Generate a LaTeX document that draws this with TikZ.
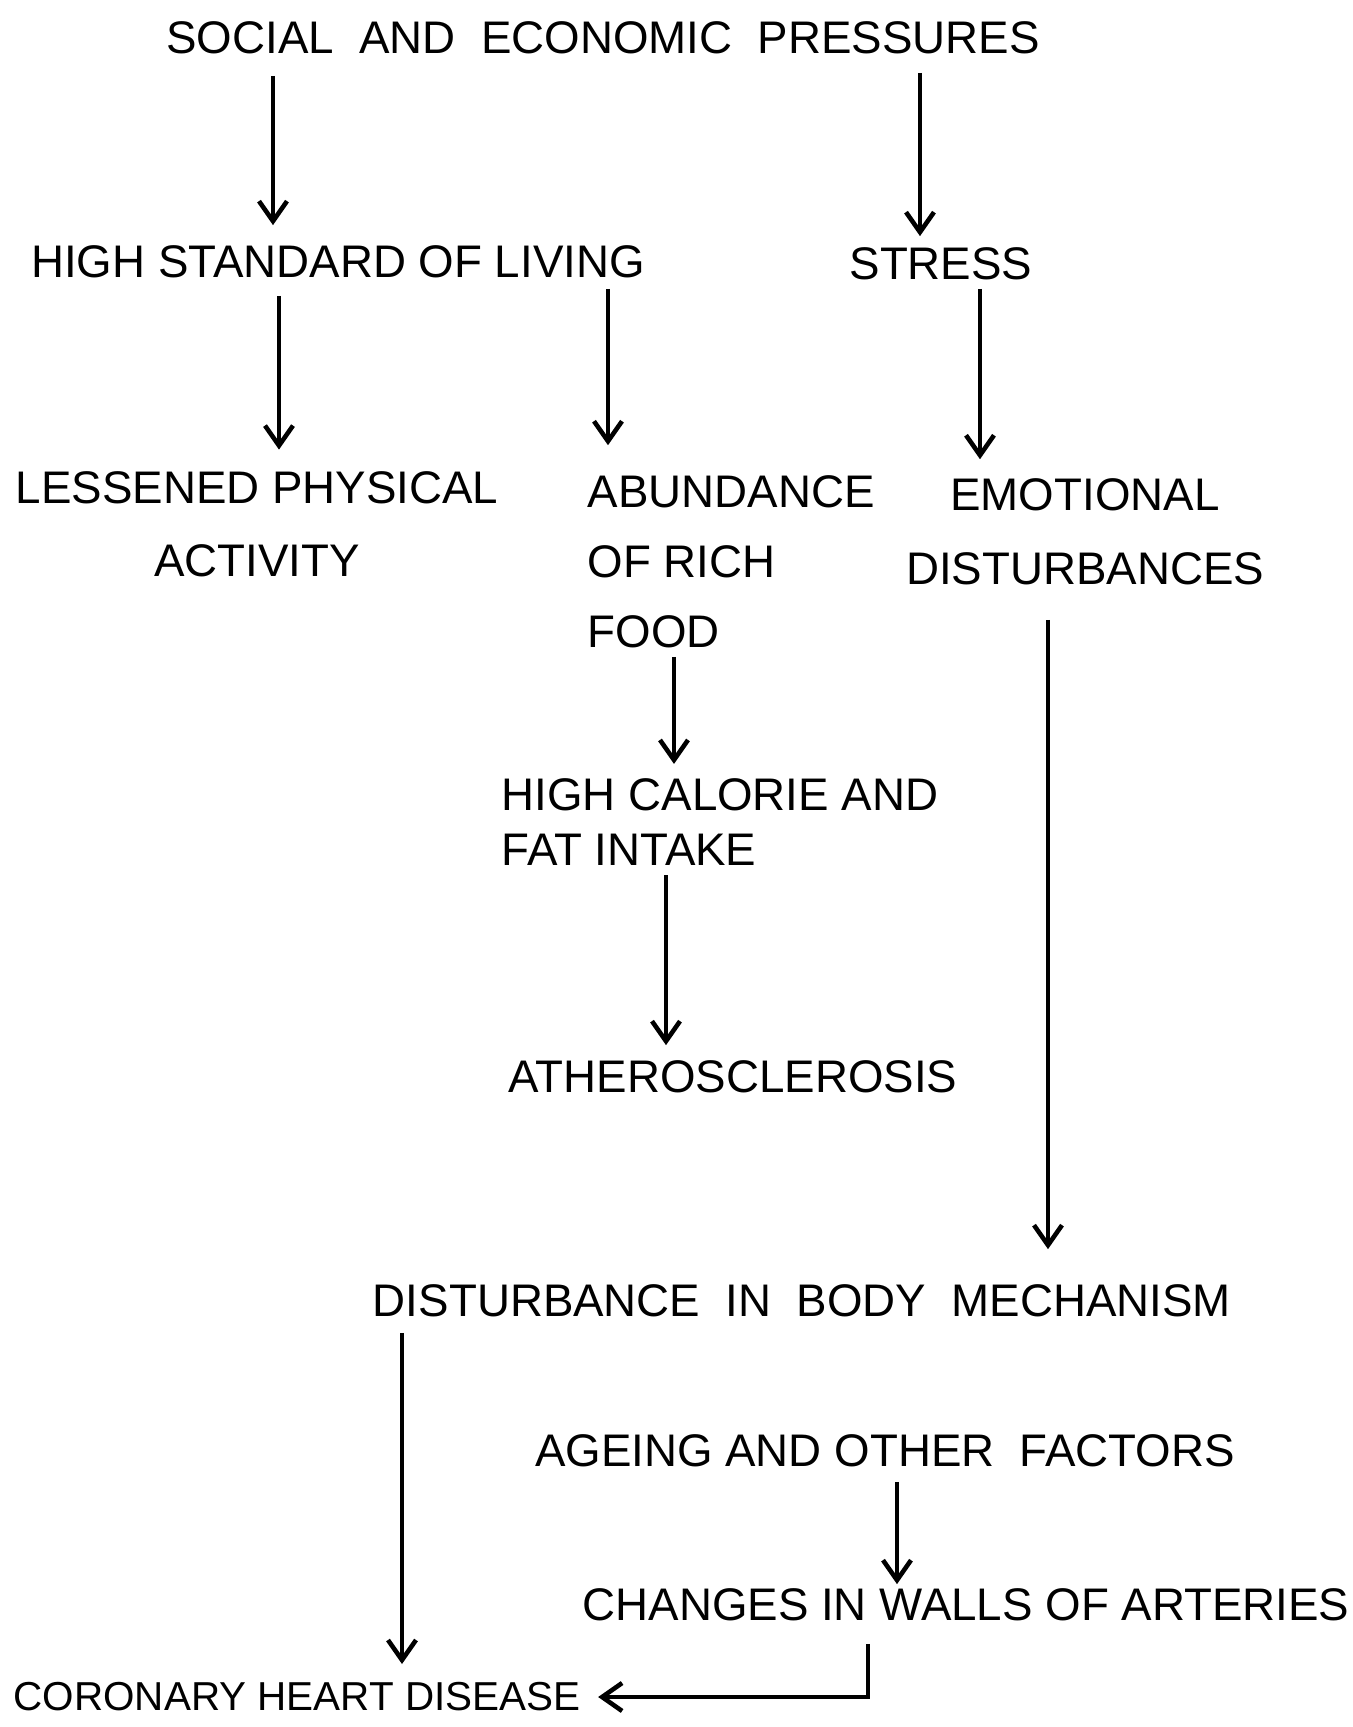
\documentclass[tikz,border=0pt]{standalone}
\usepackage{fontspec}
\setmainfont{Liberation Sans}
\usepackage{tikz}
\usetikzlibrary{arrows.meta}
\definecolor{white}{RGB}{255,255,255}
\definecolor{ink}{RGB}{0,0,0}

\begin{document}
\begin{tikzpicture}[x=0.1mm,y=-0.1mm,
	lbl/.style={inner sep=0pt,text=ink,font=\fontsize{13}{15.6}\selectfont},
	arr/.style={draw=ink,line width=1.3pt,-{Straight Barb[length=2mm,width=2.8mm,line width=1.3pt]}}]
	\fill[white] (0,0) rectangle (1352,1727);
	\useasboundingbox (0,0) rectangle (1352,1727);

	\node[lbl] (social) at (603,38) {SOCIAL\ \ AND\ \ ECONOMIC\ \ PRESSURES};
	\node[lbl] (hsl) at (338,262) {HIGH STANDARD OF LIVING};
	\node[lbl] (stress) at (941,264) {STRESS};
	\node[lbl,align=center] (lpa) at (257,524) {LESSENED PHYSICAL\\[5.2pt]ACTIVITY};
	\node[lbl,align=left,anchor=west] (food) at (587,562) {ABUNDANCE\\[4.3pt]OF RICH\\[4.3pt]FOOD};
	\node[lbl,align=center] (emo) at (1085,532) {EMOTIONAL\\[5.4pt]DISTURBANCES};
	\node[lbl,align=left,anchor=west] (hca) at (501,822) {HIGH CALORIE AND\\FAT INTAKE};
	\node[lbl] (ath) at (733,1077) {ATHEROSCLEROSIS};
	\node[lbl] (dbm) at (802,1301) {DISTURBANCE\ \ IN\ \ BODY\ \ MECHANISM};
	\node[lbl] (ageing) at (885,1451) {AGEING AND OTHER\ \ FACTORS};
	\node[lbl] (changes) at (966,1605) {CHANGES IN WALLS OF ARTERIES};
	\node[lbl,anchor=west,font=\fontsize{11.5}{14}\selectfont] (chd) at (13,1697) {CORONARY HEART DISEASE};

	\foreach \a/\b/\x/\s/\e in {social/hsl/273/2.1/2.0,social/stress/920/1.8/1.1,
		hsl/lpa/279/1.7/2.1,hsl/food/608/1.0/3.0,stress/emo/980/0.8/1.9,
		food/hca/674/0.8/1.4,hca/ath/666/0.9/1.5,emo/dbm/1048/3.4/3.5,
		dbm/chd/402/1.5/1.8,ageing/changes/897/1.4/0.4}
		\draw[arr,shorten <=\s mm,shorten >=\e mm] (\a.south -| \x,0) -- (\b.north -| \x,0);
	\draw[arr,shorten <=2.2mm,shorten >=1.7mm] (changes.south -| 868,0) |- (chd.east);
\end{tikzpicture}
\end{document}
